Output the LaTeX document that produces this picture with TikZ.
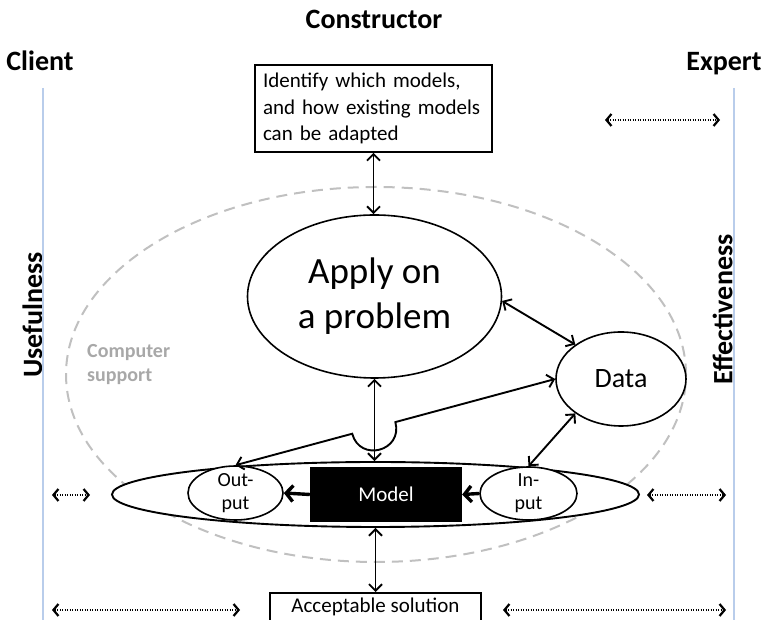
\documentclass[tikz,border=0pt]{standalone}
\usepackage{fontspec}
\setmainfont{Carlito}
\usetikzlibrary{shapes.geometric,arrows.meta,calc}
\definecolor{lineblue}{RGB}{185,205,235}
\definecolor{dashgrey}{RGB}{192,192,192}
\definecolor{txtgrey}{RGB}{168,168,168}
\tikzset{
  title/.style={font=\fontsize{28}{32}\selectfont\bfseries, inner sep=0pt},
  oval/.style={ellipse, draw, line width=1.6pt, fill=white, inner sep=0pt},
  arr/.style={line width=1.9pt, {Straight Barb[length=6.5pt,width=13pt]}-{Straight Barb[length=6.5pt,width=13pt]}},
  fatarr/.style={line width=3.4pt, -{Straight Barb[length=7pt,width=16pt]}},
  dotarr/.style={line width=2.2pt, dash pattern=on 1.2pt off 1.3pt, {Straight Barb[length=5pt,width=12pt]}-{Straight Barb[length=5pt,width=12pt]}},
  boxtxt/.style={font=\fontsize{21}{26.5}\selectfont},
  smalltxt/.style={font=\fontsize{20}{23}\selectfont, align=center, inner sep=0pt}
}
\begin{document}
\begin{tikzpicture}[x=1pt,y=1pt]
\useasboundingbox (0,0) rectangle (768,620);
\clip (0,0) rectangle (768,620);
% titles
\node[title, anchor=base] (constr) at (374,591) {Constructor};
\node[title, anchor=base] (client) at (40,549) {Client};
\node[title, anchor=base] (expert) at (724,549) {Expert};
\node[title, rotate=90] (useful) at (32.5,305) {Usefulness};
\node[title, rotate=90] (effect) at (722.5,310.5) {Effectiveness};
% blue lines
\coordinate (bl1) at (43,532); \coordinate (bl2) at (43,-5);
\coordinate (br1) at (734,532); \coordinate (br2) at (734,-5);
\draw[lineblue, line width=1.6pt] (bl1) -- (bl2);
\draw[lineblue, line width=1.6pt] (br1) -- (br2);
% computer support dashed ellipse
\node[ellipse, draw=dashgrey, line width=2pt, dash pattern=on 11pt off 7pt, inner sep=0pt,
      minimum width=620, minimum height=375] (cs) at (376,245.5) {};
\node[font=\fontsize{20}{24}\selectfont\bfseries, text=txtgrey, align=left, anchor=west, inner sep=0pt]
      (cstxt) at (87,255) {Computer\\support};
% top box
\node[draw, line width=1.6pt, fill=white, boxtxt, align=left, text width=221pt, inner xsep=8pt,
      minimum height=87pt] (top) at (373.5,511.5) {Identify which models,\\and how existing models\\can be adapted};
% apply ellipse
\node[oval, minimum width=254, minimum height=163, align=center,
      font=\fontsize{37}{45}\selectfont] (apply) at (374.5,323.5) {Apply on\\a problem};
% data
\node[oval, minimum width=130, minimum height=94, font=\fontsize{28}{32}\selectfont] (data) at (621,241) {Data};
% flat ellipse
\node[oval, line width=1.9pt, minimum width=527, minimum height=65] (flat) at (375.5,125.5) {};
% output / input
\node[oval, minimum width=95, minimum height=54] (out) at (235.5,127) {};
\node[smalltxt] (outtxt) at (out.center) {Out-\\put};
\node[oval, minimum width=97, minimum height=53] (in) at (528.5,126.5) {};
\node[smalltxt] (intxt) at (in.center) {In-\\put};
% model
\node[fill=black, text=white, minimum width=152, minimum height=55, inner sep=0pt,
      font=\fontsize{21}{24}\selectfont] (model) at (386,125.5) {Model};
% acceptable solution
\node[draw, line width=1.6pt, fill=white, boxtxt, anchor=north, minimum width=211, inner ysep=5.5pt,
      text depth=20pt] (acc) at (375.5,28) {Acceptable solution};
% connectors
\draw[arr] (top.south) -- (top.south |- apply.north);
\draw[arr] (apply.south) -- (apply.south |- flat.north);
\draw[arr] (flat.south) -- (flat.south |- acc.north);
\draw[arr] (apply.-2) -- (data.143);
\draw[arr] (in.north) -- (data.217);
\coordinate (hopA) at ($(out.north)!0.365!(data.west)$);
\coordinate (hopB) at ($(out.north)!0.50!(data.west)$);
\draw[arr] (out.north) -- (hopA) .. controls ($(hopA)+(-74.8:30)$) and ($(hopB)+(-74.8:30)$) .. (hopB) -- (data.west);
\draw[fatarr] (model.west) -- (out.east);
\draw[fatarr] (in.west) -- (model.east);
% dotted arrows
\coordinate (d1a) at (605,500); \coordinate (d1b) at (720,500);
\coordinate (d2a) at (52,125);  \coordinate (d2b) at (90,125);
\coordinate (d3a) at (647,125); \coordinate (d3b) at (726,125);
\coordinate (d4a) at (52,10);   \coordinate (d4b) at (240,10);
\coordinate (d5a) at (503,10);  \coordinate (d5b) at (726,10);
\draw[dotarr] (d1a) -- (d1b);
\draw[dotarr] (d2a) -- (d2b);
\draw[dotarr] (d3a) -- (d3b);
\draw[dotarr] (d4a) -- (d4b);
\draw[dotarr] (d5a) -- (d5b);
\end{tikzpicture}
\end{document}
